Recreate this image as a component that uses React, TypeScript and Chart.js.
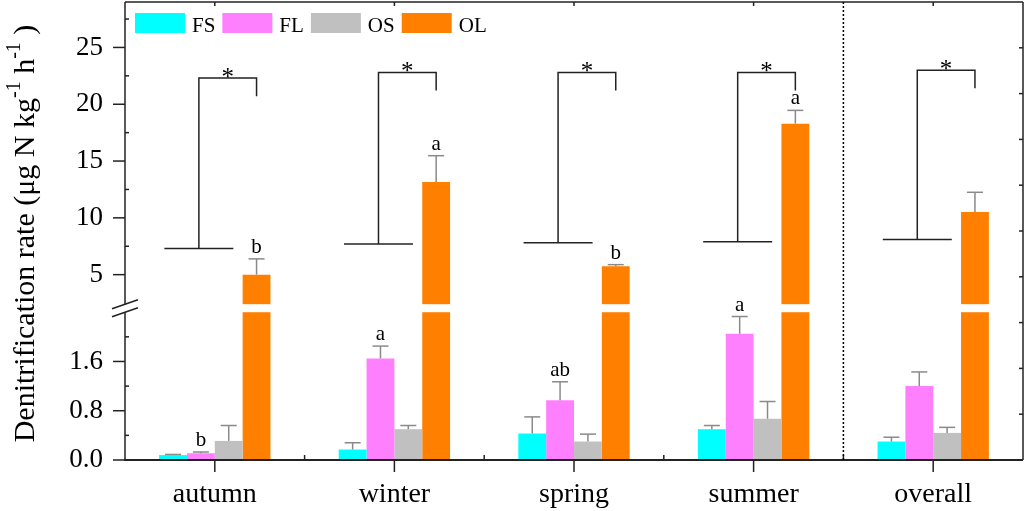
import React, { useEffect, useRef } from 'react';
import { Chart, registerables, LinearScale } from 'chart.js';

// ---------------- data ----------------
const CATEGORIES = ['autumn', 'winter', 'spring', 'summer', 'overall'];
const SERIES_NAMES = ['FS', 'FL', 'OS', 'OL'];
const FS = [0.08, 0.17, 0.43, 0.5, 0.3];
const FS_ERR = [0.01, 0.11, 0.27, 0.06, 0.07];
const FL = [0.11, 1.65, 0.97, 2.05, 1.2];
const FL_ERR = [0.02, 0.2, 0.3, 0.28, 0.23];
const OS = [0.31, 0.5, 0.3, 0.67, 0.44];
const OS_ERR = [0.25, 0.06, 0.12, 0.28, 0.09];
const OL = [5.0, 13.16, 5.73, 18.29, 10.52];
const OL_ERR = [1.39, 2.31, 0.15, 1.17, 1.73];
const FS_LETTERS = ['', '', '', '', ''];
const FL_LETTERS = ['b', 'a', 'ab', 'a', ''];
const OS_LETTERS = ['', '', '', '', ''];
const OL_LETTERS = ['b', 'a', 'b', 'a', ''];
const BRACKET_BASE = [7.3, 7.7, 7.8, 7.9, 8.1];
const BRACKET_TOP = [22.3, 22.8, 22.8, 22.8, 23.0];
const BRACKET_MARK = ['*', '*', '*', '*', '*'];
const Y_TICKS = [0, 0.8, 1.6, 5, 10, 15, 20, 25];
const Y_TICK_LABELS = ['0.0', '0.8', '1.6', '5', '10', '15', '20', '25'];
const Y_MINOR = [0.4, 1.2, 2.0, 7.5, 12.5, 17.5, 22.5, 27.5];
const LOW_MAX = 2.4;
const UP_MIN = 2.4;
const UP_MAX = 29;

// ---------------- styles ----------------
const COLORS = ['#00FFFF', '#FF80FF', '#C0C0C0', '#FF8000'];
const FONT = "'Liberation Serif', 'Times New Roman', serif";
const LOW_FRAC = 0.3227;
const GAP_FRAC = 0.0175;

const VALUES = [FS, FL, OS, OL];
const ERRORS = [FS_ERR, FL_ERR, OS_ERR, OL_ERR];
const LETTERS = [FS_LETTERS, FL_LETTERS, OS_LETTERS, OL_LETTERS];

class BrokenLinearScale extends LinearScale {
  static id = 'brokenLinear';
  static defaults = LinearScale.defaults;
  getPixelForValue(value: any) {
    if (value === null || value === undefined || isNaN(value)) return NaN;
    const top = (this as any).top;
    const bottom = (this as any).bottom;
    const H = bottom - top;
    if (value <= LOW_MAX) return bottom - (value / LOW_MAX) * LOW_FRAC * H;
    const v = Math.max(value, UP_MIN);
    return (
      bottom -
      (LOW_FRAC + GAP_FRAC) * H -
      ((v - UP_MIN) / (UP_MAX - UP_MIN)) * (1 - LOW_FRAC - GAP_FRAC) * H
    );
  }
  getValueForPixel(pixel: number) {
    const top = (this as any).top;
    const bottom = (this as any).bottom;
    const H = bottom - top;
    const d = bottom - pixel;
    if (d <= LOW_FRAC * H) return (d / (LOW_FRAC * H)) * LOW_MAX;
    const du = d - (LOW_FRAC + GAP_FRAC) * H;
    return UP_MIN + (Math.max(du, 0) / ((1 - LOW_FRAC - GAP_FRAC) * H)) * (UP_MAX - UP_MIN);
  }
}

Chart.register(...registerables, BrokenLinearScale);

const line = (ctx: CanvasRenderingContext2D, x1: number, y1: number, x2: number, y2: number) => {
  ctx.beginPath();
  ctx.moveTo(x1, y1);
  ctx.lineTo(x2, y2);
  ctx.stroke();
};

const decorPlugin = {
  id: 'decor',
  afterDatasetsDraw(chart: any) {
    const ctx: CanvasRenderingContext2D = chart.ctx;
    const ys = chart.scales.y;
    const { top, bottom } = chart.chartArea;
    const H = bottom - top;
    const gapLow = bottom - LOW_FRAC * H;
    const gapHigh = gapLow - GAP_FRAC * H;
    ctx.save();
    chart.data.datasets.forEach((ds: any, i: number) => {
      const meta = chart.getDatasetMeta(i);
      meta.data.forEach((el: any, j: number) => {
        const v = ds.data[j];
        const e = ERRORS[i][j];
        const yTop = ys.getPixelForValue(v + e);
        ctx.strokeStyle = '#8a8a8a';
        ctx.lineWidth = 1.5;
        line(ctx, el.x, el.y, el.x, yTop);
        line(ctx, el.x - 8, yTop, el.x + 8, yTop);
        const letter = LETTERS[i][j];
        if (letter) {
          ctx.fillStyle = '#000';
          ctx.font = `21px ${FONT}`;
          ctx.textAlign = 'center';
          ctx.textBaseline = 'alphabetic';
          ctx.fillText(letter, el.x, yTop - 6);
        }
        if (v > LOW_MAX) {
          ctx.fillStyle = '#fff';
          ctx.fillRect(el.x - el.width / 2 - 1, gapHigh, el.width + 2, gapLow - gapHigh);
        }
      });
    });
    ctx.restore();
  },
  afterDraw(chart: any) {
    const ctx: CanvasRenderingContext2D = chart.ctx;
    const xs = chart.scales.x;
    const ys = chart.scales.y;
    const { left, right, top, bottom } = chart.chartArea;
    const H = bottom - top;
    const gapLow = bottom - LOW_FRAC * H;
    const gapHigh = gapLow - GAP_FRAC * H;
    ctx.save();
    ctx.strokeStyle = '#222';
    ctx.lineWidth = 1.5;
    // frame
    line(ctx, left, bottom, left, gapLow);
    line(ctx, left, gapHigh, left, top);
    line(ctx, left, top, right, top);
    line(ctx, right, top, right, bottom);
    ctx.lineWidth = 2;
    line(ctx, left - 1, bottom, right, bottom);
    ctx.lineWidth = 1.5;
    // break marks
    [gapHigh, gapLow].forEach((gy) => line(ctx, left - 13, gy + 4.5, left + 13, gy - 4.5));
    // y ticks
    Y_TICKS.forEach((v) => {
      const py = ys.getPixelForValue(v);
      line(ctx, left - 12, py, left, py);
    });
    Y_MINOR.forEach((v) => {
      const py = ys.getPixelForValue(v);
      line(ctx, left, py, left + 4, py);
    });
    for (let k = 1; k < 10; k++) {
      const py = top + (k * H) / 10;
      line(ctx, right - 4, py, right, py);
    }
    // x ticks
    const n = CATEGORIES.length;
    for (let i = 0; i < n; i++) {
      const px = xs.getPixelForValue(i);
      line(ctx, px, bottom, px, bottom + 12);
      line(ctx, px, top, px, top + 4);
      if (i > 0) {
        const bx = (xs.getPixelForValue(i - 1) + px) / 2;
        line(ctx, bx, bottom, bx, bottom - 5);
      }
    }
    // dotted separator before "overall"
    const sx = (xs.getPixelForValue(n - 2) + xs.getPixelForValue(n - 1)) / 2;
    ctx.setLineDash([2, 2]);
    ctx.strokeStyle = '#000';
    line(ctx, sx, top, sx, bottom);
    ctx.setLineDash([]);
    // significance brackets
    const flMeta = chart.getDatasetMeta(1);
    const olMeta = chart.getDatasetMeta(3);
    ctx.strokeStyle = '#222';
    ctx.lineWidth = 1.5;
    for (let j = 0; j < n; j++) {
      const vx = flMeta.data[j].x - 2;
      const rx = olMeta.data[j].x;
      const by = ys.getPixelForValue(BRACKET_BASE[j]);
      const ty = ys.getPixelForValue(BRACKET_TOP[j]);
      const ey = ys.getPixelForValue(BRACKET_TOP[j] - 1.6);
      line(ctx, vx - 34.5, by, vx + 34.5, by);
      ctx.beginPath();
      ctx.moveTo(vx, by);
      ctx.lineTo(vx, ty);
      ctx.lineTo(rx, ty);
      ctx.lineTo(rx, ey);
      ctx.stroke();
      ctx.fillStyle = '#000';
      ctx.font = `25px ${FONT}`;
      ctx.textAlign = 'center';
      ctx.textBaseline = 'alphabetic';
      ctx.fillText(BRACKET_MARK[j], (vx + rx) / 2, ty + 7);
    }
    // legend
    let lx = left + 10;
    const ly = top + 11;
    ctx.font = `21px ${FONT}`;
    ctx.textAlign = 'left';
    ctx.textBaseline = 'alphabetic';
    SERIES_NAMES.forEach((name, i) => {
      ctx.fillStyle = COLORS[i];
      ctx.fillRect(lx, ly, 50, 20);
      ctx.fillStyle = '#000';
      ctx.fillText(name, lx + 57, ly + 19);
      lx += 57 + ctx.measureText(name).width + 7;
    });
    // y axis title with superscripts
    const parts = [
      { t: 'Denitrification rate (μg N kg', sup: false },
      { t: '-1', sup: true },
      { t: ' h', sup: false },
      { t: '-1', sup: true },
      { t: ' )', sup: false },
    ];
    const mainFont = `30px ${FONT}`;
    const supFont = `20px ${FONT}`;
    let total = 0;
    parts.forEach((p) => {
      ctx.font = p.sup ? supFont : mainFont;
      total += ctx.measureText(p.t).width;
    });
    ctx.translate(34, 233.5);
    ctx.rotate(-Math.PI / 2);
    let tx = -total / 2;
    ctx.fillStyle = '#000';
    parts.forEach((p) => {
      ctx.font = p.sup ? supFont : mainFont;
      ctx.fillText(p.t, tx, p.sup ? -14 : 0);
      tx += ctx.measureText(p.t).width;
    });
    ctx.restore();
  },
};

export default function App() {
  const ref = useRef<HTMLCanvasElement>(null);
  useEffect(() => {
    if (!ref.current) return;
    const chart = new Chart(ref.current, {
      type: 'bar',
      data: {
        labels: CATEGORIES,
        datasets: SERIES_NAMES.map((name, i) => ({
          label: name,
          data: VALUES[i],
          backgroundColor: COLORS[i],
          borderWidth: 0,
          categoryPercentage: 0.62,
          barPercentage: 1,
        })),
      },
      options: {
        animation: false,
        responsive: false,
        devicePixelRatio: 1,
        events: [],
        layout: { padding: { top: 2, right: 1, left: 0, bottom: 0 } },
        plugins: {
          legend: { display: false },
          tooltip: { enabled: false },
          title: { display: false },
        },
        scales: {
          x: {
            type: 'category',
            grid: { display: false, drawTicks: false },
            border: { display: false },
            ticks: {
              font: { family: FONT, size: 28 },
              color: '#000',
              padding: 18,
              maxRotation: 0,
              autoSkip: false,
            },
            afterFit: (s: any) => {
              s.height = 51;
              s.paddingLeft = 0;
              s.paddingRight = 0;
            },
          },
          y: {
            type: 'brokenLinear',
            min: 0,
            max: UP_MAX,
            grid: { display: false, drawTicks: false },
            border: { display: false },
            ticks: {
              font: { family: FONT, size: 27 },
              color: '#000',
              padding: 22,
              autoSkip: false,
              callback: (_v: any, i: number) => Y_TICK_LABELS[i],
            },
            afterBuildTicks: (s: any) => {
              s.ticks = Y_TICKS.map((v) => ({ value: v }));
            },
            afterFit: (s: any) => {
              s.width = 125;
              s.paddingTop = 0;
              s.paddingBottom = 0;
            },
          },
        } as any,
      },
      plugins: [decorPlugin],
    });
    return () => chart.destroy();
  }, []);
  return (
    <div style={{ position: 'absolute', left: 0, top: 0, width: 1024, height: 511, background: '#fff' }}>
      <canvas ref={ref} width={1024} height={511} />
    </div>
  );
}
